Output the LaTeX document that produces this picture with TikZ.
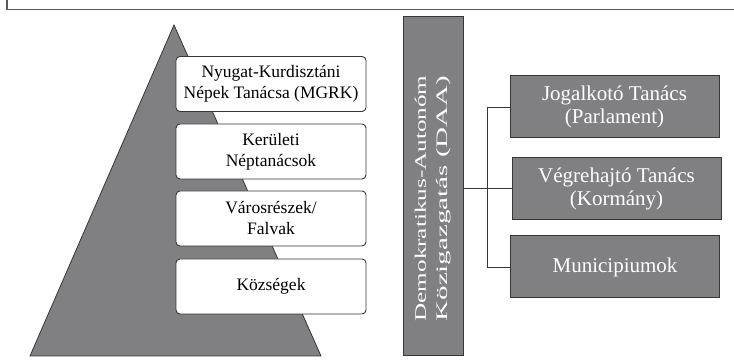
\documentclass[tikz,border=0pt]{standalone}
\usepackage{fontspec}
\setmainfont{Liberation Serif}
\usetikzlibrary{positioning}
\definecolor{pyrgray}{RGB}{128,128,131}
\definecolor{linegray}{RGB}{55,55,55}
\tikzset{
  level/.style={draw=linegray,line width=0.9pt,fill=white,rounded corners=4pt,
    minimum width=190pt,minimum height=55pt,align=center,inner sep=0pt,
    font=\fontsize{17.5}{21}\selectfont},
  organ/.style={draw=linegray,line width=1pt,fill=pyrgray,text=white,
    minimum width=209pt,minimum height=62pt,align=center,inner sep=0pt,
    font=\fontsize{21}{23}\selectfont},
  link/.style={draw=linegray,line width=0.9pt}
}
\begin{document}
\begin{tikzpicture}[x=1pt,y=1pt]
\useasboundingbox (0,0) rectangle (734,363);
% frame
\draw[line width=1.6pt,draw=black!65] (7,363) -- (7,353.5) -- (734,353.5);
% pyramid
\draw[fill=pyrgray,draw=linegray,line width=0.8pt] (30,7) -- (174,338) -- (321,7) -- cycle;

\node[level](mgrk) at (271,279){Nyugat-Kurdisztáni\\Népek Tanácsa (MGRK)};
\node[level](kerulet) at (271,211.5){Kerületi\\Néptanácsok};
\node[level](varos) at (271,144.5){Városrészek/\\Falvak};
\node[level](kozseg) at (271,76.5){Községek};

\node[draw=linegray,line width=1pt,fill=pyrgray,minimum width=60pt,minimum height=339pt,inner sep=0pt](daa) at (433,176.5){};
\node[rotate=90,text=white,align=center,font=\fontsize{16}{22}\selectfont](daatext) at ([yshift=-12pt]daa.center){\resizebox{246pt}{\height}{Demokratikus-Autonóm}\\\resizebox{246pt}{\height}{Közigazgatás (DAA)}};

\node[organ](jog) at (614.5,256){Jogalkotó Tanács\\(Parlament)};
\node[organ](vegre) at (616.5,174.5){Végrehajtó Tanács\\(Kormány)};
\node[organ](muni) at (615,96){Municipiumok};

\coordinate (bus) at (487,176.5);

\path[link]
(daa.east |- vegre) edge (vegre.west)
(jog.west) edge (bus |- jog)
(bus |- jog) edge (bus |- muni)
(bus |- muni) edge (muni.west);
\end{tikzpicture}
\end{document}
